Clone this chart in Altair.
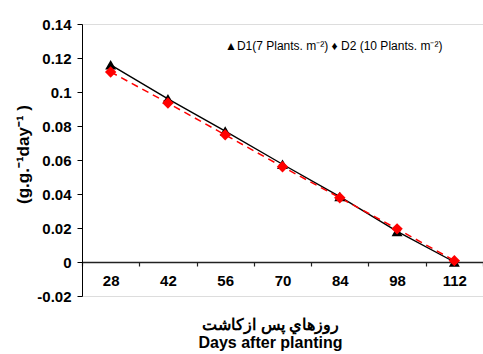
import altair as alt
import pandas as pd

days = [28, 42, 56, 70, 84, 98, 112]
d1 = [0.1160, 0.0960, 0.0770, 0.0575, 0.0385, 0.0180, 0.0000]
d2 = [0.1118, 0.0935, 0.0748, 0.0560, 0.0378, 0.0195, 0.0008]
y_ticks = [-0.02, 0, 0.02, 0.04, 0.06, 0.08, 0.10, 0.12, 0.14]

df1 = pd.DataFrame({"day": days, "v": d1})
df2 = pd.DataFrame({"day": days, "v": d2})

FONT = "Liberation Sans"

xenc = alt.X(
    "day:O",
    scale=alt.Scale(type="band", paddingInner=0, paddingOuter=0, domain=days),
    axis=alt.Axis(
        offset=-34, tickBand="extent", labelAngle=0,
        labelPadding=7, tickSize=4, tickColor="#222", domainColor="#222",
        domainWidth=1.5, tickWidth=1.2,
        title=["روزهاي پس ازكاشت", "Days after planting"],
        titleFont=FONT, titleFontSize=16, titleFontWeight="bold",
        titleColor="black", titlePadding=28, titleLineHeight=18, titleX=188,
    ),
)
yscale = alt.Scale(domain=[-0.02, 0.14], nice=False, zero=False)
yaxis = alt.Axis(
    values=y_ticks, tickCount=20, grid=False, tickSize=5, tickColor="black",
    domainColor="black", labelPadding=6, labelOverlap=False,
    labelExpr="datum.value < -0.0001 ? '-' + format(-datum.value, '~g') : format(abs(datum.value) < 1e-9 ? 0 : datum.value, '~g')",
    title="(g.g.⁻¹day⁻¹ )", titleFont=FONT, titleFontSize=17, titleFontWeight="bold",
    titleColor="black", titlePadding=4, titleY=130,
)

line1 = alt.Chart(df1).mark_line(color="black", strokeWidth=1.4).encode(
    x=xenc, y=alt.Y("v:Q", scale=yscale, axis=yaxis))
pts1 = alt.Chart(df1).mark_point(shape="triangle-up", filled=True, color="black",
                                 size=120, opacity=1).encode(
    x=alt.X("day:O"), y=alt.Y("v:Q"))
line2 = alt.Chart(df2).mark_line(color="#ff0000", strokeWidth=1.5,
                                 strokeDash=[7, 5]).encode(
    x=alt.X("day:O"), y=alt.Y("v:Q"))
pts2 = alt.Chart(df2).mark_point(shape="diamond", filled=True, color="#ff0000",
                                 size=130, opacity=1).encode(
    x=alt.X("day:O"), y=alt.Y("v:Q"))

legend = alt.Chart(pd.DataFrame({"t": ["▲D1(7 Plants. m⁻²) ♦ D2 (10 Plants. m⁻²)"]})).mark_text(
    align="left", baseline="middle", font=FONT, fontSize=12, color="black"
).encode(text="t:N", x=alt.value(143), y=alt.value(22))

chart = alt.layer(line1, line2, pts1, pts2, legend).properties(
    width=401, height=272,
    padding={"left": 82, "top": 24, "right": 0, "bottom": 58},
    autosize=alt.AutoSizeParams(type="none"),
).configure_view(stroke=None).configure(background="white").configure_axis(
    labelFont=FONT, labelFontSize=15, labelFontWeight="bold", labelColor="black",
    labelOverlap=False, labelBound=False,
)

chart.save("out.html", embed_options={"renderer": "svg", "actions": False})
